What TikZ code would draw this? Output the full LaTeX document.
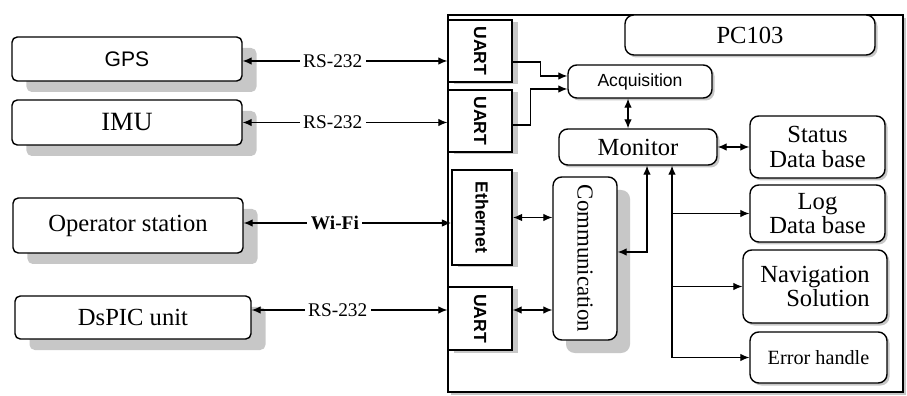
\documentclass[tikz,border=0pt]{standalone}
\usepackage{fontspec}
\setmainfont{Liberation Serif}
\setsansfont{Liberation Sans}
\usepackage{tikz}
\usetikzlibrary{
    positioning,
    arrows.meta,
    shadows,
}
\tikzset{
    % Box styles
    frame/.style={rectangle, draw, thick, fill=white, align=center},
    shade/.style 2 args={drop shadow={shadow xshift=#1, shadow yshift=#2, fill=black!22, opacity=1}},
    unit/.style={frame, rounded corners=3pt, shade={0.29cm}{-0.22cm}},
    port/.style={frame, inner sep=0pt, font=\sffamily\bfseries\txtsize{10}, shade={0.11cm}{-0.05cm}},
    task/.style={frame, rounded corners=5pt, inner sep=1pt},
    % Arrow styles
    link/.style={{Latex[length=1.8mm,width=1.5mm]}-{Latex[length=1.8mm,width=1.5mm]}, semithick},
    arrow/.style={-{Latex[length=1.8mm,width=1.5mm]}, semithick},
    bus label/.style={fill=white, inner sep=2pt, font=\txtsize{11}},
}
\newcommand{\txtsize}[1]{\fontsize{#1}{#1}\selectfont}

\begin{document}
\begin{tikzpicture}[font=\txtsize{14}]
    \useasboundingbox (0,0) rectangle (18.14,-7.92);

    % Onboard computer
    \node[frame, minimum width=9.1cm, minimum height=7.54cm, shade={0.06cm}{-0.06cm}] (pc) at (13.51,-4.07) {};
    \node[task, minimum width=5cm, minimum height=0.8cm, shade={0.05cm}{-0.05cm}] (pc103) at (15.0,-0.7) {PC103};

    % External units
    \node[unit, minimum width=4.6cm, minimum height=0.88cm, font=\sffamily\txtsize{12}] (gps) at (2.54,-1.18) {GPS};
    \node[unit, minimum width=4.6cm, minimum height=0.9cm, font=\txtsize{15}] (imu) at (2.54,-2.45) {IMU};
    \node[unit, minimum width=4.6cm, minimum height=1.1cm] (op) at (2.56,-4.51) {Operator station};
    \node[unit, minimum width=4.72cm, minimum height=0.86cm] (dspic) at (2.66,-6.35) {DsPIC unit};

    % Ports
    \node[port, minimum width=1.28cm, minimum height=1.24cm] (uart1) at (9.6,-1.02) {\rotatebox{-90}{UART}};
    \node[port, minimum width=1.28cm, minimum height=1.24cm] (uart2) at (9.6,-2.42) {\rotatebox{-90}{UART}};
    \node[port, minimum width=1.2cm, minimum height=1.9cm, very thick] (eth) at (9.64,-4.35) {\rotatebox{-90}{Ethernet}};
    \node[port, minimum width=1.28cm, minimum height=1.26cm] (uart3) at (9.6,-6.37) {\rotatebox{-90}{UART}};

    % Links to the outside
    \foreach \src/\dst/\lbl/\dy in {gps/uart1/RS-232/-0.04, imu/uart2/RS-232/0, op/eth/\textbf{Wi-Fi}/0.05, dspic/uart3/RS-232/0.15} {
        \draw[link] ([yshift=\dy cm]\src.east) -- node[bus label, pos=0.44] {\lbl} ([yshift=\dy cm]\src.east -| \dst.west);
    }

    % Tasks
    \node[task, minimum width=2.88cm, minimum height=0.66cm, font=\sffamily\txtsize{10}, shade={0.05cm}{-0.05cm}] (acq) at (12.8,-1.63) {Acquisition};
    \node[task, minimum width=3.16cm, minimum height=0.72cm, shade={0.05cm}{-0.05cm}] (mon) at (12.76,-2.94) {Monitor};
    \node[task, minimum width=2.7cm, minimum height=1.24cm, shade={0.05cm}{-0.05cm}] (stat) at (16.35,-2.94) {Status\\Data base};
    \node[task, minimum width=2.7cm, minimum height=1.14cm, shade={0.05cm}{-0.05cm}] (log) at (16.35,-4.27) {Log\\Data base};
    \node[task, minimum width=2.88cm, minimum height=1.46cm, align=right, shade={0.05cm}{-0.05cm}] (nav) at (16.3,-5.73) {Navigation\\Solution};
    \node[task, minimum width=2.74cm, minimum height=1.02cm, font=\txtsize{11.5}, shade={0.05cm}{-0.05cm}] (err) at (16.37,-7.15) {Error handle};
    \node[task, minimum width=1.28cm, minimum height=3.26cm, font=\txtsize{13}, shade={0.26cm}{-0.26cm}] (comm) at (11.7,-5.17) {\rotatebox{-90}{Communication}};

    % Acquisition inputs
    \draw[arrow] ([yshift=-0.22cm]uart1.east) -- ++(0.56,0) |- ([yshift=0.11cm]acq.west);
    \draw[arrow] ([yshift=-0.08cm]uart2.east) -- ++(0.36,0) |- ([yshift=-0.15cm]acq.west);

    % Monitor links
    \draw[link] ([xshift=-0.24cm]acq.south) -- ([xshift=-0.24cm]acq.south |- mon.north);
    \draw[link] (mon.east) -- (stat.west);
    \draw[link] ([xshift=0.18cm]mon.south) |- ([yshift=0.13cm]comm.east);

    % Communication links
    \draw[link] (eth.east) -- (eth.east -| comm.west);
    \draw[link] ([yshift=0.17cm]uart3.east) -- ([yshift=0.17cm]uart3.east -| comm.west);

    % Monitor outputs
    \coordinate (bus) at ([xshift=0.68cm]mon.south |- err.west);
    \draw[arrow] (bus) -- ([xshift=0.68cm]mon.south);
    \foreach \t in {log, nav, err} {
        \draw[arrow] (bus |- \t.west) -- (\t.west);
    }
\end{tikzpicture}
\end{document}
